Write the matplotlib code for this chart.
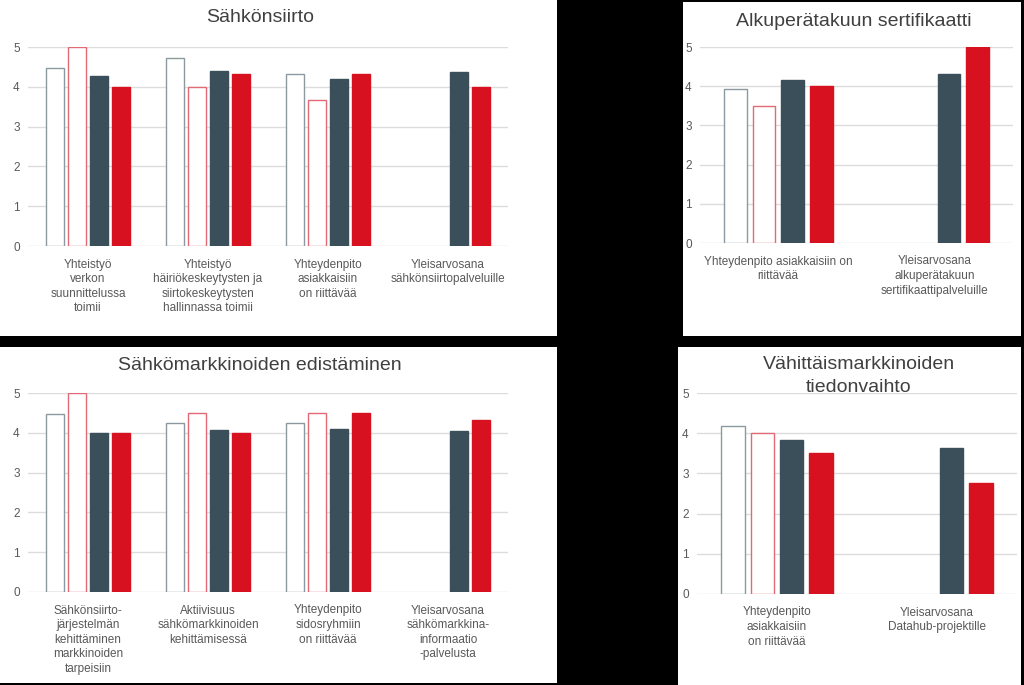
import numpy as np
import matplotlib.pyplot as plt
from matplotlib.patches import Rectangle

plt.rcParams['font.family'] = ['Liberation Sans', 'DejaVu Sans']

# data, four series per panel (nan = no bar)
titles = ['Sähkönsiirto', 'Alkuperätakuun sertifikaatti',
          'Sähkömarkkinoiden edistäminen', 'Vähittäismarkkinoiden\ntiedonvaihto']

cats_siirto = ['Yhteistyö\nverkon\nsuunnittelussa\ntoimii',
               'Yhteistyö\nhäiriökeskeytysten ja\nsiirtokeskeytysten\nhallinnassa toimii',
               'Yhteydenpito\nasiakkaisiin\non riittävää',
               'Yleisarvosana\nsähkönsiirtopalveluille']
siirto_s1 = [4.48, 4.73, 4.33, np.nan]
siirto_s2 = [5.0, 4.0, 3.68, np.nan]
siirto_s3 = [4.26, 4.40, 4.20, 4.36]
siirto_s4 = [4.0, 4.33, 4.33, 4.0]

cats_alku = ['Yhteydenpito asiakkaisiin on\nriittävää',
             'Yleisarvosana\nalkuperätakuun\nsertifikaattipalveluille']
alku_s1 = [3.92, np.nan]
alku_s2 = [3.5, np.nan]
alku_s3 = [4.15, 4.32]
alku_s4 = [4.0, 5.0]

cats_edist = ['Sähkönsiirto-\njärjestelmän\nkehittäminen\nmarkkinoiden\ntarpeisiin',
              'Aktiivisuus\nsähkömarkkinoiden\nkehittämisessä',
              'Yhteydenpito\nsidosryhmiin\non riittävää',
              'Yleisarvosana\nsähkömarkkina-\ninformaatio\n-palvelusta']
edist_s1 = [4.47, 4.25, 4.25, np.nan]
edist_s2 = [5.0, 4.5, 4.5, np.nan]
edist_s3 = [4.0, 4.07, 4.1, 4.05]
edist_s4 = [4.0, 4.0, 4.5, 4.33]

cats_vahit = ['Yhteydenpito\nasiakkaisiin\non riittävää',
              'Yleisarvosana\nDatahub-projektille']
vahit_s1 = [4.17, np.nan]
vahit_s2 = [4.0, np.nan]
vahit_s3 = [3.84, 3.63]
vahit_s4 = [3.5, 2.75]

W, H = 1024, 685
fig = plt.figure(figsize=(W / 100, H / 100), dpi=100, facecolor='black')

def box(x0, y0, x1, y1):
    # pixel box (top-left origin) -> figure fractions
    return [x0 / W, 1 - y1 / H, (x1 - x0) / W, (y1 - y0) / H]

# panel backgrounds, axes boxes, title positions
panels = [
    dict(bg=(0, 0, 557, 336), ax=(28, 47, 508, 246), title=(260, 18),
         cats=cats_siirto, series=[siirto_s1, siirto_s2, siirto_s3, siirto_s4]),
    dict(bg=(683, 2, 1021, 336), ax=(700, 47, 1013, 243), title=(854, 22),
         cats=cats_alku, series=[alku_s1, alku_s2, alku_s3, alku_s4]),
    dict(bg=(0, 347, 557, 683), ax=(28, 393, 508, 592), title=(260, 366),
         cats=cats_edist, series=[edist_s1, edist_s2, edist_s3, edist_s4]),
    dict(bg=(678, 347, 1021, 685), ax=(697, 393, 1017, 594), title=(859, 376),
         cats=cats_vahit, series=[vahit_s1, vahit_s2, vahit_s3, vahit_s4]),
]

face = ['white', 'white', '#3b4f5a', '#d7111f']
edge = ['#8c99a1', '#e36a74', '#3b4f5a', '#d7111f']
width = 0.146
step = 0.183

for title, p in zip(titles, panels):
    r = box(*p['bg'])
    fig.add_artist(Rectangle((r[0], r[1]), r[2], r[3], transform=fig.transFigure,
                             facecolor='white', edgecolor='none', zorder=-1))
    ax = fig.add_axes(box(*p['ax']))
    ax.set_facecolor('none')
    x = np.arange(len(p['cats']))
    for i, vals in enumerate(p['series']):
        ax.bar(x + (i - 1.5) * step, vals, width, color=face[i],
               edgecolor=edge[i], linewidth=1.0, zorder=3)
    ax.set_xlim(-0.5, len(p['cats']) - 0.5)
    ax.set_ylim(0, 5)
    ax.set_yticks([0, 1, 2, 3, 4, 5])
    ax.yaxis.grid(True, color='#dcdcdc', linewidth=1.0, zorder=0)
    ax.set_axisbelow(True)
    for s in ax.spines.values():
        s.set_visible(False)
    ax.set_xticks(x)
    ax.set_xticklabels(p['cats'], linespacing=1.28)
    ax.tick_params(axis='both', length=0, labelsize=8.5, colors='#595959')
    ax.tick_params(axis='x', pad=9)
    ax.tick_params(axis='y', pad=6)
    tx, ty = p['title']
    fig.text(tx / W, 1 - ty / H, title, ha='center', va='center',
             fontsize=14, color='#404040', linespacing=1.45)

fig.savefig('out.png', dpi=100, facecolor='black')
